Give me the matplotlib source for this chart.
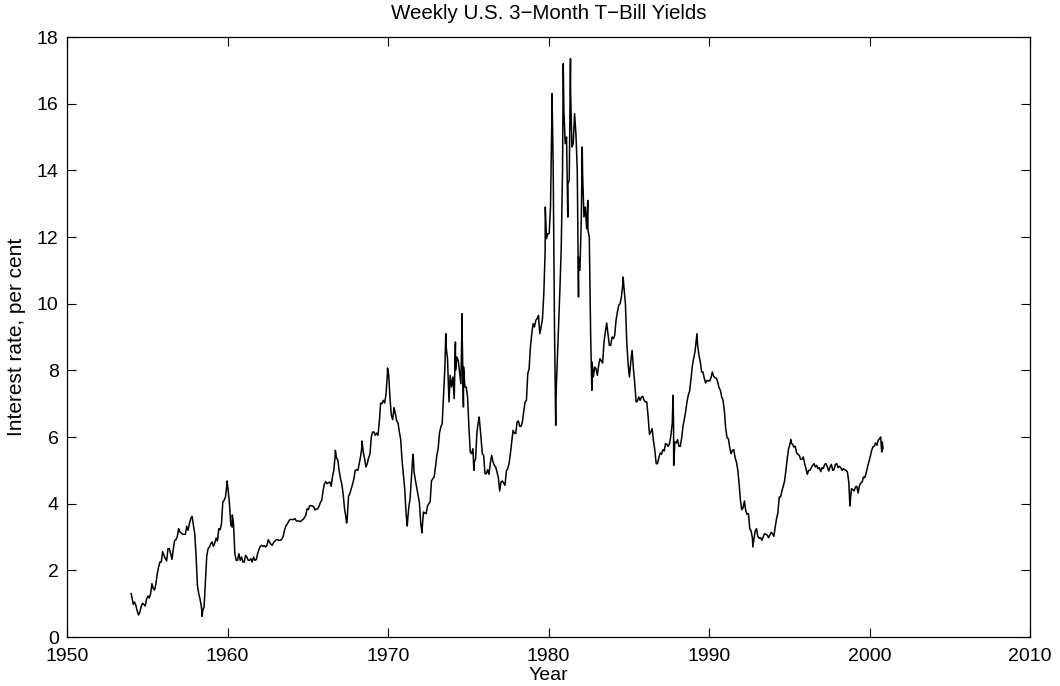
import numpy as np
import matplotlib
matplotlib.use("Agg")
import matplotlib.pyplot as plt

# Monthly readings (per cent), one list per year, Jan..Dec
y1954 = [1.20, 0.98, 1.05, 0.95, 0.78, 0.66, 0.75, 0.92, 1.01, 0.98, 0.93, 1.14]
y1955 = [1.23, 1.17, 1.30, 1.60, 1.45, 1.41, 1.60, 1.90, 2.10, 2.25, 2.25, 2.56]
y1956 = [2.45, 2.35, 2.28, 2.65, 2.65, 2.50, 2.33, 2.65, 2.90, 2.92, 3.02, 3.25]
y1957 = [3.15, 3.12, 3.08, 3.08, 3.08, 3.32, 3.20, 3.40, 3.55, 3.62, 3.35, 3.10]
y1958 = [2.45, 1.55, 1.30, 1.13, 0.90, 0.80, 0.90, 1.70, 2.44, 2.65, 2.70, 2.80]
y1959 = [2.85, 2.72, 2.82, 2.97, 2.88, 3.25, 3.22, 3.40, 4.05, 4.10, 4.20, 4.55]
y1960 = [4.40, 3.98, 3.35, 3.30, 3.40, 2.50, 2.30, 2.30, 2.50, 2.30, 2.40, 2.25]
y1961 = [2.25, 2.45, 2.40, 2.30, 2.30, 2.35, 2.25, 2.40, 2.30, 2.32, 2.50, 2.62]
y1962 = [2.72, 2.75, 2.72, 2.74, 2.70, 2.75, 2.92, 2.84, 2.78, 2.75, 2.84, 2.88]
y1963 = [2.92, 2.92, 2.90, 2.90, 2.93, 3.00, 3.18, 3.32, 3.38, 3.45, 3.52, 3.53]
y1964 = [3.52, 3.53, 3.55, 3.48, 3.48, 3.48, 3.46, 3.50, 3.53, 3.58, 3.65, 3.85]
y1965 = [3.82, 3.94, 3.94, 3.93, 3.90, 3.81, 3.84, 3.85, 3.93, 4.04, 4.10, 4.40]
y1966 = [4.60, 4.66, 4.60, 4.63, 4.65, 4.52, 4.82, 5.00, 5.45, 5.38, 5.30, 4.98]
y1967 = [4.75, 4.58, 4.28, 3.85, 3.60, 3.55, 4.22, 4.30, 4.45, 4.58, 4.75, 5.00]
y1968 = [5.02, 5.00, 5.20, 5.42, 5.70, 5.55, 5.35, 5.10, 5.20, 5.38, 5.48, 6.00]
y1969 = [6.15, 6.15, 6.05, 6.12, 6.05, 6.45, 7.02, 7.00, 7.10, 7.02, 7.28, 7.85]
y1970 = [7.88, 7.15, 6.65, 6.52, 6.88, 6.70, 6.48, 6.42, 6.15, 5.92, 5.30, 4.88]
y1971 = [4.45, 3.72, 3.40, 3.88, 4.15, 4.78, 5.40, 4.95, 4.70, 4.48, 4.25, 4.02]
y1972 = [3.40, 3.22, 3.75, 3.72, 3.70, 3.92, 4.00, 4.05, 4.68, 4.75, 4.80, 5.10]
y1973 = [5.45, 5.65, 6.12, 6.30, 6.40, 7.20, 8.05, 8.70, 8.35, 7.25, 7.85, 7.50]
y1974 = [7.80, 7.15, 8.00, 8.40, 8.30, 7.95, 7.60, 9.00, 8.10, 7.50, 7.50, 7.20]
y1975 = [6.30, 5.55, 5.50, 5.65, 5.25, 5.35, 6.15, 6.45, 6.45, 6.00, 5.50, 5.45]
y1976 = [4.90, 4.90, 5.02, 4.88, 5.22, 5.45, 5.25, 5.15, 5.10, 4.95, 4.78, 4.38]
y1977 = [4.65, 4.68, 4.62, 4.55, 4.98, 5.05, 5.20, 5.50, 5.85, 6.20, 6.12, 6.10]
y1978 = [6.45, 6.48, 6.32, 6.32, 6.45, 6.78, 7.05, 7.10, 7.90, 8.05, 8.70, 9.10]
y1979 = [9.40, 9.30, 9.50, 9.55, 9.65, 9.10, 9.30, 9.55, 10.30, 11.60, 11.95, 12.10]
y1980 = [12.10, 12.90, 15.60, 14.10, 9.20, 7.10, 8.20, 9.35, 10.40, 11.65, 14.00, 15.80]
y1981 = [14.80, 15.00, 13.60, 13.70, 16.40, 14.70, 14.80, 15.70, 15.10, 14.00, 11.40, 11.00]
y1982 = [12.50, 13.90, 12.60, 12.90, 12.25, 12.20, 12.00, 9.10, 8.25, 7.80, 8.10, 8.05]
y1983 = [7.85, 8.15, 8.35, 8.28, 8.22, 8.85, 9.15, 9.42, 9.08, 8.75, 8.75, 9.00]
y1984 = [8.95, 9.05, 9.50, 9.75, 9.95, 10.00, 10.20, 10.55, 10.45, 10.00, 8.85, 8.20]
y1985 = [7.80, 8.25, 8.60, 8.05, 7.60, 7.05, 7.08, 7.20, 7.10, 7.20, 7.22, 7.10]
y1986 = [7.05, 7.05, 6.60, 6.08, 6.15, 6.25, 5.88, 5.60, 5.20, 5.20, 5.38, 5.52]
y1987 = [5.48, 5.62, 5.58, 5.80, 5.78, 5.72, 5.80, 6.05, 6.40, 6.40, 5.85, 5.82]
y1988 = [5.92, 5.72, 5.72, 5.95, 6.30, 6.52, 6.75, 7.05, 7.25, 7.38, 7.72, 8.12]
y1989 = [8.35, 8.55, 8.90, 8.75, 8.45, 8.25, 7.95, 7.95, 7.75, 7.62, 7.70, 7.68]
y1990 = [7.68, 7.78, 7.95, 7.82, 7.78, 7.76, 7.65, 7.48, 7.40, 7.20, 7.10, 6.78]
y1991 = [6.25, 5.98, 5.95, 5.68, 5.50, 5.60, 5.62, 5.38, 5.25, 5.02, 4.60, 4.10]
y1992 = [3.82, 3.88, 4.08, 3.78, 3.68, 3.70, 3.25, 3.18, 2.95, 2.90, 3.18, 3.25]
y1993 = [3.02, 2.96, 2.98, 2.90, 3.00, 3.10, 3.08, 3.06, 2.98, 3.06, 3.14, 3.10]
y1994 = [3.02, 3.30, 3.55, 3.72, 4.20, 4.20, 4.38, 4.52, 4.68, 5.00, 5.35, 5.65]
y1995 = [5.78, 5.82, 5.78, 5.70, 5.72, 5.52, 5.48, 5.45, 5.33, 5.33, 5.40, 5.20]
y1996 = [5.05, 4.88, 5.00, 5.00, 5.08, 5.15, 5.20, 5.10, 5.15, 5.05, 5.08, 4.96]
y1997 = [5.08, 5.06, 5.18, 5.20, 5.10, 4.98, 5.10, 5.18, 5.00, 5.02, 5.18, 5.20]
y1998 = [5.08, 5.12, 5.08, 5.00, 5.05, 5.02, 5.00, 4.95, 4.65, 4.00, 4.45, 4.42]
y1999 = [4.38, 4.50, 4.52, 4.32, 4.55, 4.62, 4.65, 4.80, 4.78, 4.92, 5.10, 5.25]
y2000 = [5.40, 5.58, 5.70, 5.72, 5.82, 5.75, 5.90, 5.95, 5.92]

# Weekly extremes: (decimal year, per cent)
spike_years = [1954.00, 1958.42, 1959.97, 1960.30, 1966.72, 1967.42, 1968.38,
               1969.97, 1971.20, 1971.57, 1972.12, 1973.60, 1973.80, 1974.20,
               1974.62, 1974.70, 1975.35, 1975.68, 1979.80, 1980.22, 1980.45,
               1980.92, 1981.20, 1981.37, 1981.87, 1982.10, 1982.45, 1982.70,
               1984.65, 1987.76, 1987.80, 1989.25, 1992.73, 1995.10, 1998.78,
               2000.70, 2000.76, 2000.80, 2000.84]
spike_vals = [1.30, 0.62, 4.68, 3.66, 5.60, 3.42, 5.88,
              8.07, 3.33, 5.48, 3.12, 9.10, 7.05, 8.85,
              9.70, 6.90, 5.00, 6.60, 12.90, 16.30, 6.35,
              17.20, 12.60, 17.35, 10.20, 14.70, 13.10, 7.40,
              10.80, 7.25, 5.15, 9.10, 2.70, 5.92, 3.93,
              6.00, 5.55, 5.85, 5.65]

years = list(range(1954, 2001))
monthly = [globals()["y%d" % yr] for yr in years]

t = []
v = []
for yr, vals in zip(years, monthly):
    for m, val in enumerate(vals):
        t.append(yr + (m + 0.5) / 12.0)
        v.append(val)
t = np.array(t + spike_years)
v = np.array(v + spike_vals)
order = np.argsort(t)
t, v = t[order], v[order]

plt.rcParams['font.family'] = ['Liberation Sans', 'DejaVu Sans']

fig = plt.figure(figsize=(10.6, 6.86), dpi=100)
ax = fig.add_axes([67 / 1060, 49 / 686, 963 / 1060, 600 / 686])
ax.plot(t, v, color='black', linewidth=1.1)

ax.set_xlim(1950, 2010)
ax.set_ylim(0, 18)
ax.set_xticks(np.arange(1950, 2011, 10))
ax.set_yticks(np.arange(0, 19, 2))
ax.tick_params(direction='in', top=True, right=True, length=6.5, width=0.8,
               labelsize=14)
ax.tick_params(axis='x', pad=8)
ax.tick_params(axis='y', pad=6)
for s in ax.spines.values():
    s.set_linewidth(0.9)

ax.set_title('Weekly U.S. 3\u2212Month T\u2212Bill Yields', fontsize=14.8, pad=13)
ax.set_xlabel('Year', fontsize=14, labelpad=1)
ax.set_ylabel('Interest rate, per cent', fontsize=15, labelpad=8)

fig.savefig('out.png', dpi=100)
